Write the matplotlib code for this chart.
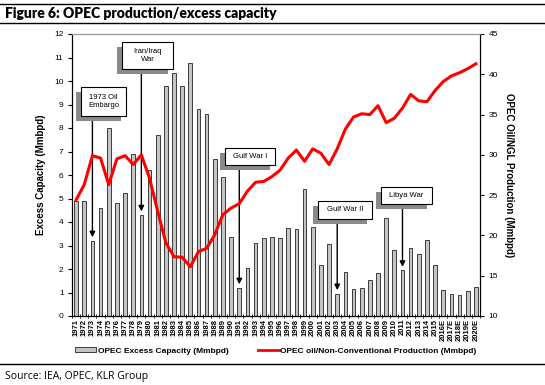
import matplotlib
matplotlib.use("Agg")
import matplotlib.pyplot as plt
from matplotlib.patches import Rectangle
from matplotlib.lines import Line2D
from matplotlib.patches import Patch
import numpy as np

# data
years = [str(y) for y in range(1971, 2016)] + ["2016E", "2017E", "2018E", "2019E", "2020E"]
excess_capacity = [4.9, 4.9, 3.2, 4.6, 8.0, 4.8, 5.25, 6.9, 4.3, 6.2,
                   7.7, 9.8, 10.35, 9.8, 10.75, 8.8, 8.6, 6.7, 5.9, 3.35,
                   1.2, 2.05, 3.1, 3.3, 3.35, 3.3, 3.75, 3.7, 5.4, 3.8,
                   2.16, 3.08, 0.95, 1.89, 1.17, 1.21, 1.53, 1.82, 4.19, 2.8,
                   1.94, 2.91, 2.62, 3.22, 2.19, 1.1, 0.95, 0.88, 1.05, 1.22]
production = [24.4, 26.3, 29.9, 29.6, 26.3, 29.5, 29.9, 28.8, 30.0, 27.1,
              23.0, 19.1, 17.35, 17.3, 16.1, 18.0, 18.4, 20.1, 22.6, 23.4,
              23.95, 25.5, 26.6, 26.7, 27.3, 28.1, 29.6, 30.6, 29.2, 30.75,
              30.2, 28.8, 30.75, 33.2, 34.7, 35.1, 35.0, 36.1, 34.0, 34.55,
              35.8, 37.5, 36.7, 36.6, 38.0, 39.1, 39.8, 40.2, 40.7, 41.3]

# events: (label, year, box left/top/right/bottom in pixels)
events = [
    ("1973 Oil\nEmbargo", "1973", (81, 87, 126, 116)),
    ("Iran/Iraq\nWar", "1979", (122, 42, 173, 69)),
    ("Gulf War I", "1991", (225, 148, 275, 165)),
    ("Gulf War II", "2003", (318, 201, 372, 219)),
    ("Libya War", "2011", (381, 187, 432, 204)),
]

W, H = 545, 385
fig = plt.figure(figsize=(W / 100, H / 100), dpi=100)
plt.rcParams['font.family'] = ['Liberation Sans', 'DejaVu Sans']

ax = fig.add_axes([72 / W, 1 - 316 / H, 408 / W, 282 / H])
x = np.arange(len(years))
ax.bar(x, excess_capacity, width=0.45, color='#c4c4c4', edgecolor='#222222', linewidth=0.6, zorder=2)
ax.set_xlim(-0.5, len(years) - 0.5)
ax.set_ylim(0, 12)
ax.set_yticks(range(0, 13))
ax.set_xticks(x)
ax.set_xticklabels(years, rotation=90, fontsize=5.5, fontweight='bold')
ax.set_xticks(np.arange(-0.5, len(years), 1), minor=True)
ax.tick_params(axis='x', which='major', length=0, pad=2)
ax.tick_params(axis='x', which='minor', length=3, width=0.6, direction='inout')
ax.tick_params(axis='y', labelsize=6, length=3, width=0.8, pad=3)
ax.set_ylabel('Excess Capacity (Mmbpd)', fontsize=7, fontweight='bold', labelpad=6)
ax.spines['top'].set_color('#999999')
ax.spines['top'].set_linewidth(0.8)

ax2 = ax.twinx()
ax2.plot(x, production, color='#ff0000', lw=2.2, zorder=3)
ax2.set_ylim(10, 45)
ax2.set_yticks(range(10, 46, 5))
ax2.tick_params(axis='y', labelsize=6, length=3, width=0.8, pad=3)
ax2.set_ylabel('OPEC Oil/NGL Production (Mmbpd)', fontsize=7, fontweight='bold',
               rotation=-90, labelpad=12)
ax2.spines['top'].set_color('#999999')
ax2.spines['top'].set_linewidth(0.8)

# event boxes with shadow and arrows
for label, yr, (l, t, r, b) in events:
    i = years.index(yr)
    fx0, fx1 = l / W, r / W
    fy0, fy1 = 1 - b / H, 1 - t / H
    fig.add_artist(Rectangle((fx0 - 5 / W, fy0 - 5 / H), fx1 - fx0, fy1 - fy0,
                             transform=fig.transFigure, facecolor='#8a8a8a', edgecolor='none', zorder=5))
    fig.add_artist(Rectangle((fx0, fy0), fx1 - fx0, fy1 - fy0,
                             transform=fig.transFigure, facecolor='white', edgecolor='black', lw=0.8, zorder=6))
    fig.text((fx0 + fx1) / 2, (fy0 + fy1) / 2, label, ha='center', va='center',
             fontsize=5.5, zorder=7, linespacing=1.3)
    ax.annotate('', xy=(i, excess_capacity[i] + 0.15), xycoords='data',
                xytext=(i, fy0), textcoords=('data', 'figure fraction'),
                arrowprops=dict(arrowstyle='-|>', color='black', lw=1, shrinkA=0, shrinkB=0,
                                mutation_scale=8), zorder=6)

handles = [Patch(facecolor='#c4c4c4', edgecolor='#222222', linewidth=0.6),
           Line2D([], [], color='#ff0000', lw=2)]
fig.legend(handles, ['OPEC Excess Capacity (Mmbpd)', 'OPEC oil/Non-Conventional Production (Mmbpd)'],
           loc='center', bbox_to_anchor=(276 / W, 1 - 351 / H), ncol=2, frameon=False,
           prop={'size': 6, 'weight': 'bold'}, handlelength=2.5, handleheight=0.5,
           columnspacing=3.5, handletextpad=0.2)

# title and source with rules
fig.add_artist(Line2D([0, 1], [1 - 4 / H, 1 - 4 / H], color='black', lw=1, transform=fig.transFigure))
fig.add_artist(Line2D([0, 1], [1 - 23 / H, 1 - 23 / H], color='black', lw=1, transform=fig.transFigure))
fig.text(5 / W, 1 - 14 / H, 'Figure 6: OPEC production/excess capacity', fontsize=10,
         fontweight='heavy', va='center', family=['Lato', 'DejaVu Sans'])
fig.add_artist(Line2D([0, 1], [1 - 364 / H, 1 - 364 / H], color='black', lw=1, transform=fig.transFigure))
fig.text(5 / W, 1 - 376 / H, 'Source: IEA, OPEC, KLR Group', fontsize=7.5, va='center',
         family=['Open Sans', 'DejaVu Sans'])

fig.savefig('out.png', dpi=100)
